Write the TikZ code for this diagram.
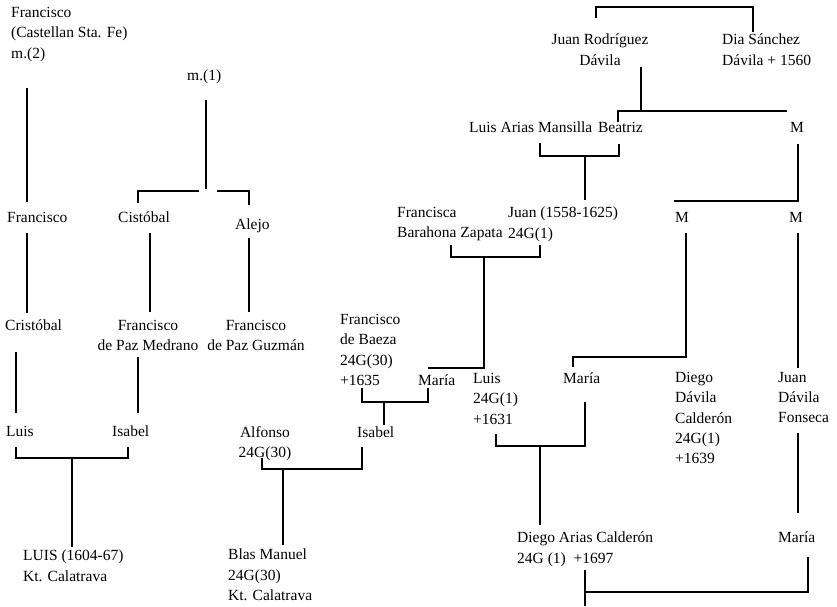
\documentclass[tikz,border=0pt]{standalone}
\usepackage{fontspec}
\setmainfont{Liberation Serif}
\begin{document}
\begin{tikzpicture}[x=1pt,y=-1pt,
  every node/.style={inner sep=0pt,font=\fontsize{15.5}{20.3}\selectfont},
  lbl/.style={anchor=north west,align=left},
  clbl/.style={anchor=north,align=center},
  rlbl/.style={anchor=north east,align=right},
  link/.style={line width=1.6pt,line join=miter}]
\useasboundingbox (0,0) rectangle (837,606);

% ---------- people ----------
\node[lbl]  (fr2)    at (11,7)    {Francisco\\(Castellan Sta. Fe)\\m.(2)};
\node[lbl]  (m1)     at (187,70)  {m.(1)};
\node[lbl]  (fr3)    at (7,212)   {Francisco};
\node[lbl]  (cis)    at (118,212) {Cistóbal};
\node[lbl]  (alejo)  at (235,219) {Alejo};
\node[lbl]  (cris)   at (5,320)   {Cristóbal};
\node[clbl] (fpm)    at (148,320) {Francisco\\de Paz Medrano};
\node[clbl] (fpg)    at (256,320) {Francisco\\de Paz Guzmán};
\node[lbl]  (luis1)  at (6,426)   {Luis};
\node[lbl]  (isa1)   at (112,426) {Isabel};
\node[lbl]  (luisk)  at (23,550)  {LUIS (1604-67)\\Kt. Calatrava};
\node[clbl] (alf)    at (265,426) {Alfonso\\24G(30)};
\node[lbl]  (blas)   at (228,549) {Blas Manuel\\24G(30)\\Kt. Calatrava};
\node[lbl]  (fdb)    at (340,314) {Francisco\\de Baeza\\24G(30)\\+1635};
\node[lbl]  (maria1) at (418,375) {María};
\node[lbl]  (fbz)    at (397,207) {Francisca\\Barahona Zapata};
\node[lbl]  (juan)   at (508,207) {Juan (1558-1625)\\24G(1)};
\node[lbl]  (isa2)   at (357,427) {Isabel};
\node[lbl]  (luis2)  at (473,373) {Luis\\24G(1)\\+1631};
\node[lbl]  (maria2) at (563,373) {María};
\node[lbl]  (diego)  at (675,372) {Diego\\Dávila\\Calderón\\24G(1)\\+1639};
\node[lbl]  (jdf)    at (778,372) {Juan\\Dávila\\Fonseca};
\node[lbl]  (maria3) at (778,532) {María};
\node[lbl]  (dac)    at (517,532) {Diego Arias Calderón\\24G (1) \ +1697};
\node[clbl] (jrd)    at (600,34)  {Juan Rodríguez\\Dávila};
\node[lbl]  (dsd)    at (722,34)  {Dia Sánchez\\Dávila + 1560};
\node[lbl]  (lam)    at (469,122) {Luis Arias Mansilla};
\node[rlbl] (bea)    at (643,122) {Beatriz};
\node[clbl] (mA)     at (797,122) {M};
\node[clbl] (mB)     at (682,212) {M};
\node[clbl] (mC)     at (796,212) {M};

% ---------- line ends ----------
% second marriage line
\coordinate (fr2d) at (27,88);   \coordinate (fr3u) at (27,202);
\coordinate (fr3d) at (27,233);  \coordinate (crisu) at (27,313);
\coordinate (crisd) at (16,352); \coordinate (luis1u) at (16,413);
% first marriage
\coordinate (m1d) at (206,100);  \coordinate (m1j) at (206,189);
\coordinate (cisu) at (138,203); \coordinate (alejou) at (249,205);
\coordinate (cisd) at (150,233); \coordinate (fpmu) at (150,312);
\coordinate (alejod) at (249,238); \coordinate (fpgu) at (249,312);
\coordinate (fpmd) at (138,357); \coordinate (isa1u) at (138,413);
% Luis + Isabel
\coordinate (luis1d) at (16,447); \coordinate (isa1d) at (128,447);
\coordinate (lij) at (72,458);    \coordinate (luisku) at (72,547);
% Francisco de Baeza + María
\coordinate (fdbd) at (362,388); \coordinate (maria1d) at (428,388);
\coordinate (fmj) at (384,402);  \coordinate (isa2u) at (384,425);
% Alfonso + Isabel
\coordinate (isa2d) at (362,447); \coordinate (alfd) at (262,458);
\coordinate (aij) at (283,469);   \coordinate (blasu) at (283,545);
% Juan Rodríguez + Dia Sánchez
\coordinate (jrdu) at (596,18);  \coordinate (dsdu) at (753,32);
\coordinate (jrdd) at (641,67);  \coordinate (jrdj) at (641,111);
\coordinate (beau) at (618,122); \coordinate (mAr) at (787,111);
% Luis Arias + Beatriz
\coordinate (lamd) at (540,143); \coordinate (bead) at (619,144);
\coordinate (lbj) at (585,156);  \coordinate (juanu) at (585,200);
% Francisca + Juan
\coordinate (fbzd) at (451,245); \coordinate (juand) at (540,245);
\coordinate (fjj) at (484,257);  \coordinate (maria1u) at (428,368);
% M lines
\coordinate (mAd) at (798,144);  \coordinate (mBr) at (674,201);
\coordinate (mBd) at (686,233);  \coordinate (maria2u) at (573,367);
\coordinate (mCd) at (798,233);  \coordinate (jdfu) at (798,368);
% Luis + María
\coordinate (luis2d) at (496,434); \coordinate (maria2d) at (585,402);
\coordinate (lmj) at (540,446);    \coordinate (dacu) at (540,525);
% Juan Dávila Fonseca -> María
\coordinate (jdfd) at (798,433);  \coordinate (maria3u) at (798,513);
% Diego Arias + María
\coordinate (maria3d) at (808,557); \coordinate (dacd) at (585,570);
\coordinate (dacj) at (585,592);    \coordinate (dace) at (585,606);

% ---------- connectors ----------
\draw[link] (fr2d) -- (fr3u);
\draw[link] (fr3d) -- (crisu);
\draw[link] (crisd) -- (luis1u);

\draw[link] (m1d) -- (m1j);
\draw[link] (cisu) -- (138,191) -- (199,191);
\draw[link] (217,191) -- (249,191) -- (alejou);
\draw[link] (cisd) -- (fpmu);
\draw[link] (alejod) -- (fpgu);
\draw[link] (fpmd) -- (isa1u);

\draw[link] (luis1d) |- (isa1d |- lij) -- (isa1d);
\draw[link] (lij) -- (luisku);

\draw[link] (fdbd) |- (maria1d |- fmj) -- (maria1d);
\draw[link] (fmj) -- (isa2u);

\draw[link] (isa2d) |- (alfd |- aij) -- (alfd);
\draw[link] (aij) -- (blasu);

\draw[link] (jrdu) -- (596,7) -- (753,7) -- (dsdu);
\draw[link] (jrdd) -- (jrdj);
\draw[link] (beau) |- (mAr);

\draw[link] (lamd) |- (bead |- lbj) -- (bead);
\draw[link] (lbj) -- (juanu);

\draw[link] (fbzd) |- (juand |- fjj) -- (juand);
\draw[link] (fjj) |- (maria1u);

\draw[link] (mAd) |- (mBr);
\draw[link] (mBd) |- (maria2u |- 0,357) -- (maria2u);
\draw[link] (mCd) -- (jdfu);

\draw[link] (luis2d) |- (maria2d |- lmj) -- (maria2d);
\draw[link] (lmj) -- (dacu);

\draw[link] (jdfd) -- (maria3u);
\draw[link] (maria3d) |- (dacj);
\draw[link] (dacd) -- (dace);
\end{tikzpicture}
\end{document}
